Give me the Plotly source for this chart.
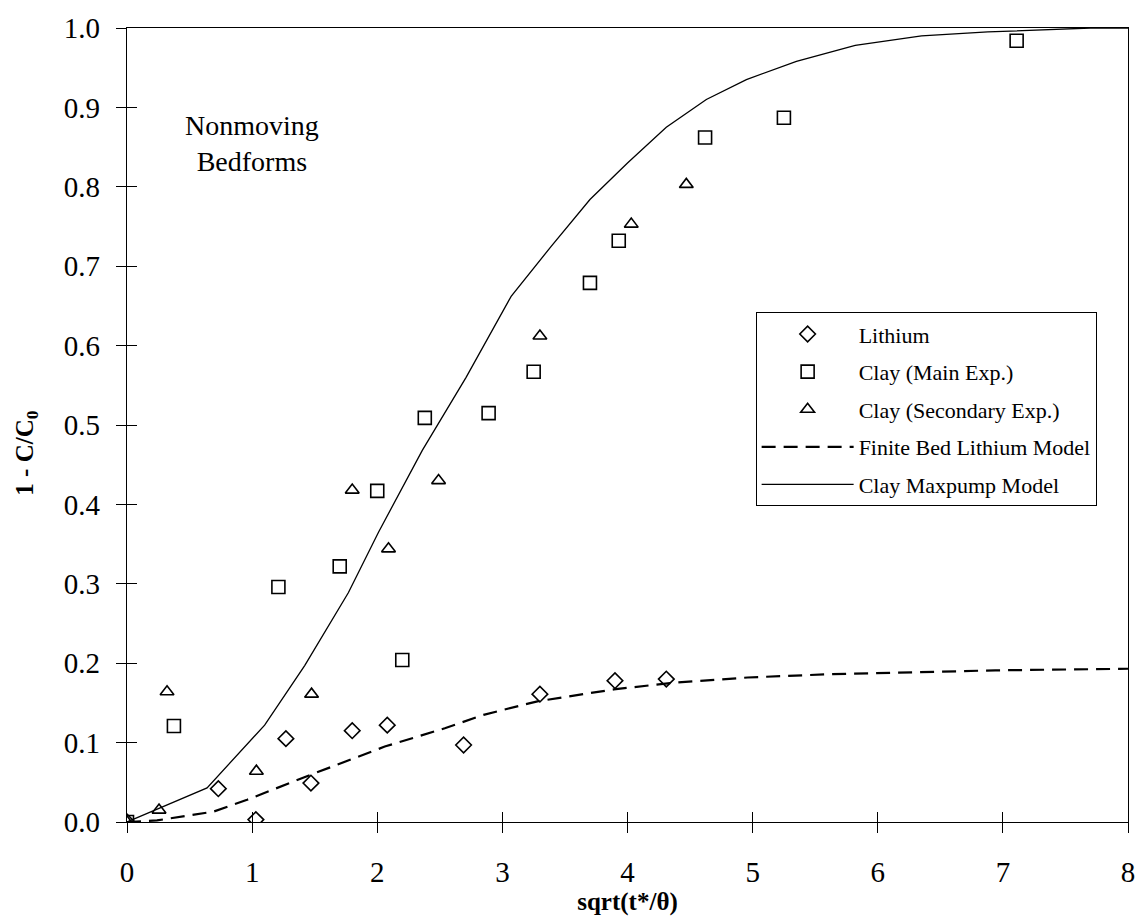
import plotly.graph_objects as go

# Measured data
lithium_x = [0, 0.73, 1.03, 1.27, 1.47, 1.80, 2.08, 2.69, 3.30, 3.90, 4.31]
lithium_y = [0, 0.042, 0.003, 0.105, 0.049, 0.115, 0.122, 0.097, 0.161, 0.178, 0.180]

clay_main_x = [0, 0.375, 1.21, 1.70, 2.00, 2.20, 2.38, 2.89, 3.25, 3.70, 3.93, 4.62, 5.25, 7.11]
clay_main_y = [0, 0.121, 0.296, 0.322, 0.417, 0.204, 0.509, 0.515, 0.567, 0.679, 0.732, 0.862, 0.887, 0.984]

clay_sec_x = [0, 0.256, 0.32, 1.034, 1.475, 1.80, 2.09, 2.49, 3.30, 4.03, 4.47]
clay_sec_y = [0, 0.015, 0.164, 0.064, 0.161, 0.418, 0.344, 0.430, 0.612, 0.753, 0.803]

# Model curves
finite_bed_x = [0, 0.24, 0.69, 0.96, 1.46, 2.06, 2.54, 2.85, 3.28, 3.89, 4.34, 4.96, 5.6, 6.3, 6.94, 8.0]
finite_bed_y = [0, 0.002, 0.013, 0.028, 0.059, 0.095, 0.118, 0.135, 0.152, 0.167, 0.175, 0.182, 0.186, 0.189, 0.191, 0.193]

maxpump_x = [0, 0.64, 1.10, 1.42, 1.77, 2.01, 2.36, 2.71, 3.07, 3.39, 3.70, 4.0, 4.31, 4.63, 4.95, 5.35, 5.82, 6.35, 6.88, 7.7, 8.0]
maxpump_y = [0, 0.043, 0.122, 0.197, 0.289, 0.365, 0.468, 0.560, 0.662, 0.725, 0.784, 0.83, 0.875, 0.91, 0.935, 0.958, 0.978, 0.99, 0.995, 1.0, 1.0]

x_ticks = [0, 1, 2, 3, 4, 5, 6, 7, 8]
y_ticks = [0.0, 0.1, 0.2, 0.3, 0.4, 0.5, 0.6, 0.7, 0.8, 0.9, 1.0]

SERIF = "Liberation Serif"

fig = go.Figure()

fig.add_trace(go.Scatter(
    x=lithium_x, y=lithium_y, mode="markers", name="Lithium", legendgroup="g1",
    marker=dict(symbol="diamond-open", size=12, color="black", line=dict(width=1.6, color="black")),
))
fig.add_trace(go.Scatter(
    x=clay_main_x, y=clay_main_y, mode="markers", name="Clay (Main Exp.)", legendgroup="g2",
    marker=dict(symbol="square-open", size=13, color="black", line=dict(width=1.6, color="black")),
))
fig.add_trace(go.Scatter(
    x=clay_sec_x, y=clay_sec_y, mode="markers", name="Clay (Secondary Exp.)", legendgroup="g3",
    marker=dict(symbol="triangle-up-open", size=12, color="black", line=dict(width=1.6, color="black")),
))
fig.add_trace(go.Scatter(
    x=finite_bed_x, y=finite_bed_y, mode="lines", name="Finite Bed Lithium Model", legendgroup="g4",
    line=dict(color="black", width=2.2, dash="14px,8px"),
))
fig.add_trace(go.Scatter(
    x=maxpump_x, y=maxpump_y, mode="lines", name="Clay Maxpump Model", legendgroup="g5",
    line=dict(color="black", width=1.3),
))

# empty trace on overlay axes so the inward half of each tick is drawn
fig.add_trace(go.Scatter(x=[], y=[], xaxis="x2", yaxis="y2", showlegend=False, hoverinfo="skip"))

tick_font = dict(family=SERIF, size=29, color="black")
title_font = dict(family=SERIF, size=25, color="black", weight="bold")

fig.update_layout(
    width=1147, height=923,
    margin=dict(l=127, r=15, t=26, b=101),
    paper_bgcolor="white", plot_bgcolor="white",
    showlegend=True,
    legend=dict(
        x=0.628, y=0.642, xanchor="left", yanchor="top",
        bgcolor="white", bordercolor="black", borderwidth=1,
        font=dict(family=SERIF, size=22, color="black"),
        itemwidth=92, tracegroupgap=6, traceorder="grouped",
    ),
    xaxis=dict(
        range=[0, 8], tickvals=x_ticks, ticks="outside", ticklen=10, tickwidth=1, tickcolor="black",
        showline=True, linecolor="black", linewidth=1.2, mirror=True,
        showgrid=False, zeroline=False, tickfont=tick_font, ticklabelstandoff=14,
        title=dict(text="sqrt(t*/θ)", font=title_font, standoff=0),
    ),
    yaxis=dict(
        range=[0, 1], tickvals=y_ticks, tickformat=".1f", ticks="outside", ticklen=10, tickwidth=1,
        tickcolor="black", showline=True, linecolor="black", linewidth=1.2, mirror=True,
        showgrid=False, zeroline=False, tickfont=tick_font, ticklabelstandoff=10,
    ),
    xaxis2=dict(
        range=[0, 8], tickvals=x_ticks, overlaying="x", side="bottom", ticks="inside", ticklen=10,
        tickwidth=1, tickcolor="black", showticklabels=False, showline=False, showgrid=False, zeroline=False,
    ),
    yaxis2=dict(
        range=[0, 1], tickvals=y_ticks, overlaying="y", side="left", ticks="inside", ticklen=10,
        tickwidth=1, tickcolor="black", showticklabels=False, showline=False, showgrid=False, zeroline=False,
    ),
    annotations=[
        dict(
            text="Nonmoving<br>Bedforms", xref="paper", yref="paper", x=0.125, y=0.854,
            xanchor="center", yanchor="middle", showarrow=False,
            font=dict(family=SERIF, size=28, color="black"),
        ),
        dict(
            text="1 - C/C<sub>0</sub>", xref="paper", yref="paper", x=-0.1, y=0.465,
            xanchor="center", yanchor="middle", textangle=-90, showarrow=False,
            font=title_font,
        ),
    ],
)

fig.write_html("out.html")
